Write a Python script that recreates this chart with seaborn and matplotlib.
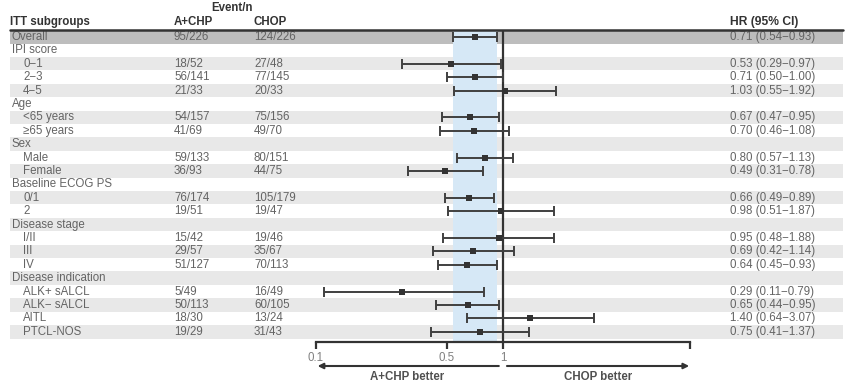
import matplotlib
matplotlib.use("Agg")
import matplotlib.pyplot as plt
from matplotlib.lines import Line2D
import seaborn as sns
import pandas as pd
import numpy as np

# data
labels = ["Overall", "IPI score", "0\u22121", "2\u22123", "4\u22125", "Age", "<65 years", "\u226565 years",
          "Sex", "Male", "Female", "Baseline ECOG PS", "0/1", "2", "Disease stage", "I/II", "III", "IV",
          "Disease indication", "ALK+ sALCL", "ALK\u2212 sALCL", "AITL", "PTCL-NOS"]
indent = [0, 0, 1, 1, 1, 0, 1, 1, 0, 1, 1, 0, 1, 1, 0, 1, 1, 1, 0, 1, 1, 1, 1]
achp = ["95/226", "", "18/52", "56/141", "21/33", "", "54/157", "41/69", "", "59/133", "36/93", "",
        "76/174", "19/51", "", "15/42", "29/57", "51/127", "", "5/49", "50/113", "18/30", "19/29"]
chop = ["124/226", "", "27/48", "77/145", "20/33", "", "75/156", "49/70", "", "80/151", "44/75", "",
        "105/179", "19/47", "", "19/46", "35/67", "70/113", "", "16/49", "60/105", "13/24", "31/43"]
hr = [0.71, None, 0.53, 0.71, 1.03, None, 0.67, 0.70, None, 0.80, 0.49, None,
      0.66, 0.98, None, 0.95, 0.69, 0.64, None, 0.29, 0.65, 1.40, 0.75]
lo = [0.54, None, 0.29, 0.50, 0.55, None, 0.47, 0.46, None, 0.57, 0.31, None,
      0.49, 0.51, None, 0.48, 0.42, 0.45, None, 0.11, 0.44, 0.64, 0.41]
hi = [0.93, None, 0.97, 1.00, 1.92, None, 0.95, 1.08, None, 1.13, 0.78, None,
      0.89, 1.87, None, 1.88, 1.14, 0.93, None, 0.79, 0.95, 3.07, 1.37]
tick_vals = [0.1, 0.5, 1, 10]
tick_labels = ["0.1", "0.5", "1", ""]

df = pd.DataFrame({"label": labels, "indent": indent, "achp": achp, "chop": chop,
                   "hr": hr, "lo": lo, "hi": hi}).astype({"hr": float, "lo": float, "hi": float})
df["row"] = np.arange(len(df))

sns.set_theme(style="white")
plt.rcParams["font.family"] = ["Liberation Sans", "DejaVu Sans"]

W, H = 848, 387
fig = plt.figure(figsize=(W / 100, H / 100), dpi=100)

TXT = "#646464"
HEAD = "#333333"
FS = 8.3

# row geometry (pixels)
y0, dy = 37.0, 13.4
def r_of(py):
    return (py - y0) / dy

# background axes: stripes + table text
ax_bg = fig.add_axes([0, 0, 1, 1])
ax_bg.set_xlim(0, W)
ax_bg.set_ylim(r_of(H), r_of(0))
ax_bg.axis("off")

x_left, x_right = 10, 843
for r in df["row"]:
    if r == 0:
        col = "#bdbdbd"
    elif r % 2 == 0:
        col = "#e8e8e8"
    else:
        continue
    ax_bg.fill_between([x_left, x_right], r - 0.5, r + 0.5, color=col, lw=0)

for _, d in df.iterrows():
    r = d["row"]
    ax_bg.text(12 + 11 * d["indent"], r, d["label"], fontsize=FS, color=TXT, va="center", ha="left")
    ax_bg.text(174, r, d["achp"], fontsize=FS, color=TXT, va="center", ha="left")
    ax_bg.text(254, r, d["chop"], fontsize=FS, color=TXT, va="center", ha="left")
    if not np.isnan(d["hr"]):
        s = f"{d['hr']:.2f} ({d['lo']:.2f}\u2212{d['hi']:.2f})"
        ax_bg.text(730, r, s, fontsize=FS, color=TXT, va="center", ha="left")

hy = r_of(22)
ax_bg.text(10, hy, "ITT subgroups", fontsize=FS, fontweight="bold", color=HEAD, va="center")
ax_bg.text(174, hy, "A+CHP", fontsize=FS, fontweight="bold", color=HEAD, va="center")
ax_bg.text(254, hy, "CHOP", fontsize=FS, fontweight="bold", color=HEAD, va="center")
ax_bg.text(232, r_of(8), "Event/n", fontsize=FS, fontweight="bold", color=HEAD, va="center", ha="center")
ax_bg.text(730, hy, "HR (95% CI)", fontsize=FS + 0.4, fontweight="bold", color=HEAD, va="center")

# forest axes
fx0, fx1 = 316, 690
fy_top, fy_bot = 30.3, 342
ax = fig.add_axes([fx0 / W, 1 - fy_bot / H, (fx1 - fx0) / W, (fy_bot - fy_top) / H])
ax.set_facecolor("none")
ax.set_xscale("log")
ax.set_xlim(0.1, 10)
ax.set_ylim(r_of(fy_bot), r_of(fy_top))

ov = df.iloc[0]
ax.axvspan(ov["lo"], ov["hi"], color="#d6e8f6", lw=0, zorder=0)
ax.axvline(1, color="#333333", lw=1.6, zorder=1)

est = df.dropna(subset=["hr"])
ax.errorbar(est["hr"], est["row"], xerr=[est["hr"] - est["lo"], est["hi"] - est["hr"]],
            fmt="none", ecolor="#404040", elinewidth=1.4, capsize=3.8, capthick=1.4, zorder=2)
sns.scatterplot(data=est, x="hr", y="row", marker="s", s=20, color="#333333",
                edgecolor="#333333", linewidth=0, ax=ax, zorder=3, legend=False)

for sp in ["left", "right", "top"]:
    ax.spines[sp].set_visible(False)
ax.spines["bottom"].set_color("#333333")
ax.spines["bottom"].set_linewidth(1.6)
ax.set_xticks(tick_vals)
ax.set_xticklabels(tick_labels)
ax.xaxis.set_minor_locator(matplotlib.ticker.NullLocator())
ax.tick_params(axis="x", which="major", direction="out", length=5, width=1.6, color="#333333",
               labelsize=FS, labelcolor="#808080", pad=2, bottom=True)
ax.set_yticks([])
ax.set_xlabel("")
ax.set_ylabel("")

# arrows below axis
tr = ax.get_xaxis_transform()
ya = -(366 - fy_bot) / (fy_bot - fy_top)
yl = -(377 - fy_bot) / (fy_bot - fy_top)
arrow = dict(arrowstyle="-|>", color="#333333", lw=1.5, mutation_scale=8, shrinkA=0, shrinkB=0)
ax.annotate("", xy=(0.102, ya), xytext=(0.95, ya), xycoords=tr, textcoords=tr, arrowprops=arrow,
            annotation_clip=False)
ax.annotate("", xy=(9.9, ya), xytext=(1.05, ya), xycoords=tr, textcoords=tr, arrowprops=arrow,
            annotation_clip=False)
ax.text(np.sqrt(0.1 * 0.95), yl, "A+CHP better", transform=tr, ha="center", va="center",
        fontsize=FS, fontweight="bold", color="#505050")
ax.text(np.sqrt(1.05 * 10), yl, "CHOP better", transform=tr, ha="center", va="center",
        fontsize=FS, fontweight="bold", color="#505050")

# header rule drawn on top of everything
fig.add_artist(Line2D([x_left, x_right], [-0.5, -0.5], transform=ax_bg.transData,
                      color="#333333", lw=1.8, zorder=5))

fig.savefig("out.png", dpi=100)
